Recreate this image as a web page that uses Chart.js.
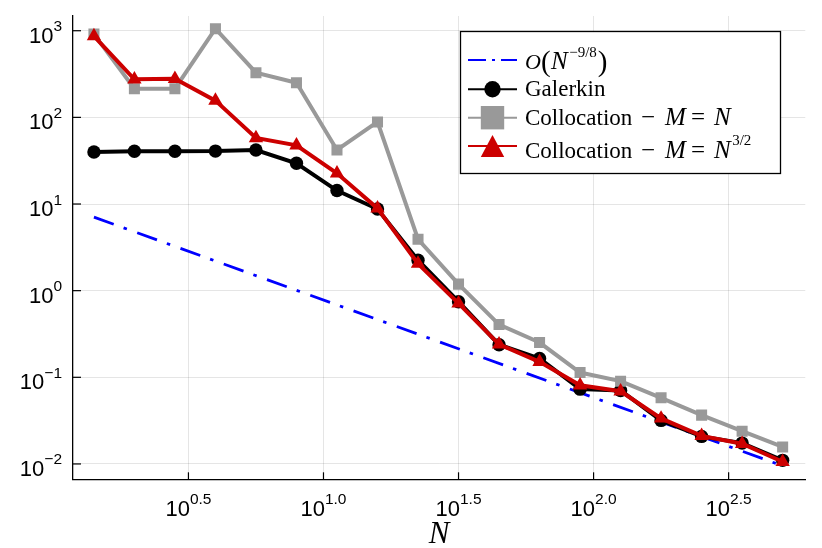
<!DOCTYPE html>
<html><head><meta charset="utf-8">
<script src="https://cdn.jsdelivr.net/npm/chart.js@4.4.0/dist/chart.umd.min.js"></script>
<style>html,body{margin:0;padding:0;background:#fff;}canvas{display:block;}</style>
</head><body>
<canvas id="c" width="822" height="548" style="width:822px;height:548px"></canvas>
<script>
// ---- data ----
const N = [1.413, 1.995, 2.818, 3.981, 5.623, 7.943, 11.22, 15.85, 22.39, 31.62, 44.67, 63.10, 89.13, 125.9, 177.8, 251.2, 354.8, 501.2];
const galerkin = [39.9, 40.6, 40.6, 40.8, 42.0, 29.5, 14.3, 8.75, 2.25, 0.746, 0.238, 0.165, 0.073, 0.0705, 0.0318, 0.0208, 0.0174, 0.011];
const collocationMN = [915, 214, 214, 1054, 328, 251, 42, 88.5, 3.92, 1.19, 0.406, 0.252, 0.1135, 0.0903, 0.058, 0.0366, 0.0239, 0.0157];
const collocationM32 = [868, 275, 279, 156, 57.8, 47.6, 22.6, 8.9, 2.05, 0.714, 0.24, 0.151, 0.081, 0.069, 0.0335, 0.0211, 0.0171, 0.0106];
const rateN = [1.413, 501.2];
const rateErr = [7.05, 0.0095];
const xTickExps = [0.5, 1.0, 1.5, 2.0, 2.5];
const xTickLabels = ['0.5', '1.0', '1.5', '2.0', '2.5'];
const yTickExps = [-2, -1, 0, 1, 2, 3];
const yTickLabels = ['\u22122', '\u22121', '0', '1', '2', '3'];
const xMin = 1.182, xMax = 608, yMin = 0.00665, yMax = 1479;

const BLUE = '#0000ff', BLACK = '#000000', GRAY = '#999999', RED = '#cc0000';
const toXY = (xs, ys) => xs.map((x, i) => ({x: x, y: ys[i]}));

function drawPow(ctx, exp, x, baseY, align) {
  const mainFont = '22px "Liberation Sans", Arial, sans-serif';
  const supFont = '15.5px "Liberation Sans", Arial, sans-serif';
  ctx.font = mainFont; const w1 = ctx.measureText('10').width;
  ctx.font = supFont; const w2 = ctx.measureText(exp).width;
  let sx = align === 'right' ? x - w1 - w2 : x - (w1 + w2) / 2;
  ctx.fillStyle = '#000'; ctx.textAlign = 'left'; ctx.textBaseline = 'alphabetic';
  ctx.font = mainFont; ctx.fillText('10', sx, baseY);
  ctx.font = supFont; ctx.fillText(exp, sx + w1, baseY - 11.5);
}

// pieces: either absolute (ax) or sequential (gap after previous piece)
function drawPieces(ctx, x0, baseY, pieces) {
  ctx.fillStyle = '#000'; ctx.textAlign = 'left'; ctx.textBaseline = 'alphabetic';
  let cx = x0;
  pieces.forEach(p => {
    ctx.font = p.f;
    const px = (p.ax !== undefined) ? x0 + p.ax : cx + (p.gap || 0);
    ctx.fillText(p.t, px, baseY + (p.dy || 0));
    cx = px + ctx.measureText(p.t).width;
  });
}

const SERIF = '"Liberation Serif", "Times New Roman", serif';
const R = '23px ' + SERIF, I = 'italic 25px ' + SERIF, S = '15px ' + SERIF, P = '29px ' + SERIF, OP = '25px ' + SERIF;

const customPlugin = {
  id: 'custom',
  afterDraw(chart) {
    const ctx = chart.ctx, xs = chart.scales.x, ys = chart.scales.y, a = chart.chartArea;
    ctx.save();
    // inward tick marks
    ctx.strokeStyle = '#000'; ctx.lineWidth = 1.2; ctx.setLineDash([]);
    yTickExps.forEach(e => {
      const py = ys.getPixelForValue(Math.pow(10, e));
      ctx.beginPath(); ctx.moveTo(a.left, py); ctx.lineTo(a.left + 8, py); ctx.stroke();
    });
    xTickExps.forEach(e => {
      const px = xs.getPixelForValue(Math.pow(10, e));
      ctx.beginPath(); ctx.moveTo(px, a.bottom); ctx.lineTo(px, a.bottom - 7); ctx.stroke();
    });
    // tick labels
    yTickExps.forEach((e, i) => drawPow(ctx, yTickLabels[i], a.left - 11, ys.getPixelForValue(Math.pow(10, e)) + 12, 'right'));
    xTickExps.forEach((e, i) => drawPow(ctx, xTickLabels[i], xs.getPixelForValue(Math.pow(10, e)), a.bottom + 36.5, 'center'));
    // axis title
    ctx.font = 'italic 31px ' + SERIF; ctx.textAlign = 'center'; ctx.fillStyle = '#000';
    ctx.fillText('N', (a.left + a.right) / 2, 543);

    // legend
    const bx = 460.5, by = 31.5, bw = 320, bh = 142;
    ctx.fillStyle = '#fff'; ctx.fillRect(bx, by, bw, bh);
    ctx.strokeStyle = '#000'; ctx.lineWidth = 1.3; ctx.strokeRect(bx, by, bw, bh);
    const lx0 = 468, lx1 = 517, mx = 492.5, tx = 525;
    // row 1: rate line
    ctx.strokeStyle = BLUE; ctx.lineWidth = 2.2; ctx.setLineDash([18, 6, 3, 6]);
    ctx.beginPath(); ctx.moveTo(lx0, 60); ctx.lineTo(lx1, 60); ctx.stroke();
    ctx.setLineDash([]);
    // row 2: galerkin
    ctx.strokeStyle = BLACK; ctx.lineWidth = 2;
    ctx.beginPath(); ctx.moveTo(lx0, 89.3); ctx.lineTo(lx1, 89.3); ctx.stroke();
    ctx.fillStyle = BLACK; ctx.beginPath(); ctx.arc(mx, 89.3, 8.2, 0, Math.PI * 2); ctx.fill();
    // row 3: gray
    ctx.strokeStyle = GRAY; ctx.lineWidth = 2;
    ctx.beginPath(); ctx.moveTo(lx0, 117.7); ctx.lineTo(lx1, 117.7); ctx.stroke();
    ctx.fillStyle = GRAY; ctx.fillRect(mx - 11.7, 117.7 - 11.7, 23.4, 23.4);
    // row 4: red
    ctx.strokeStyle = RED; ctx.lineWidth = 2;
    ctx.beginPath(); ctx.moveTo(lx0, 146); ctx.lineTo(lx1, 146); ctx.stroke();
    ctx.fillStyle = RED; ctx.beginPath();
    ctx.moveTo(mx, 135); ctx.lineTo(mx + 11.7, 157); ctx.lineTo(mx - 11.7, 157); ctx.closePath(); ctx.fill();

    // legend texts
    drawPieces(ctx, tx, 69, [
      {t: 'O', f: 'italic 22px ' + SERIF, ax: 0},
      {t: '(', f: P, gap: 0, dy: 2},
      {t: 'N', f: I, gap: 0.5},
      {t: '\u22129/8', f: S, gap: 1.5, dy: -12},
      {t: ')', f: P, gap: 1, dy: 2}
    ]);
    drawPieces(ctx, tx, 96, [{t: 'Galerkin', f: R, ax: 0}]);
    const coll = [
      {t: 'Collocation', f: R, ax: 0},
      {t: '\u2212', f: OP, ax: 116},
      {t: 'M', f: I, ax: 140},
      {t: '=', f: OP, ax: 166},
      {t: 'N', f: I, ax: 189}
    ];
    drawPieces(ctx, tx, 125, coll);
    drawPieces(ctx, tx, 158.3, coll.concat([{t: '3/2', f: S, gap: 1.5, dy: -13.3}]));
    ctx.restore();
  }
};

new Chart(document.getElementById('c'), {
  type: 'line',
  data: {
    datasets: [
      {label: 'rate', data: toXY(rateN, rateErr), borderColor: BLUE, borderWidth: 2.8,
       borderDash: [21, 10.5, 3.5, 11], pointRadius: 0, order: 3},
      {label: 'Galerkin', data: toXY(N, galerkin), borderColor: BLACK, borderWidth: 4,
       pointStyle: 'circle', pointRadius: 6.7, pointBackgroundColor: BLACK, pointBorderWidth: 0, order: 2},
      {label: 'Collocation M=N', data: toXY(N, collocationMN), borderColor: GRAY, borderWidth: 4,
       pointStyle: 'rect', pointRadius: 7.8, pointBackgroundColor: GRAY, pointBorderWidth: 0, order: 1},
      {label: 'Collocation M=N^3/2', data: toXY(N, collocationM32), borderColor: RED, borderWidth: 4,
       pointStyle: 'triangle', pointRadius: 8.3, pointBackgroundColor: RED, pointBorderWidth: 0, order: 0}
    ]
  },
  options: {
    responsive: false,
    animation: false,
    events: [],
    layout: {padding: {left: 73, right: 16.7, top: 16, bottom: 68.7}},
    plugins: {legend: {display: false}, tooltip: {enabled: false}},
    elements: {line: {tension: 0, fill: false}},
    scales: {
      x: {
        type: 'logarithmic', min: xMin, max: xMax, bounds: 'data',
        afterBuildTicks: s => { s.ticks = xTickExps.map(e => ({value: Math.pow(10, e)})); },
        ticks: {display: false},
        grid: {color: 'rgba(0,0,0,0.1)', lineWidth: 1, drawTicks: false},
        border: {display: true, color: '#000', width: 1.3}
      },
      y: {
        type: 'logarithmic', min: yMin, max: yMax, bounds: 'data',
        afterBuildTicks: s => { s.ticks = yTickExps.map(e => ({value: Math.pow(10, e)})); },
        ticks: {display: false},
        grid: {color: 'rgba(0,0,0,0.1)', lineWidth: 1, drawTicks: false},
        border: {display: true, color: '#000', width: 1.3}
      }
    }
  },
  plugins: [customPlugin]
});
</script>
</body></html>
